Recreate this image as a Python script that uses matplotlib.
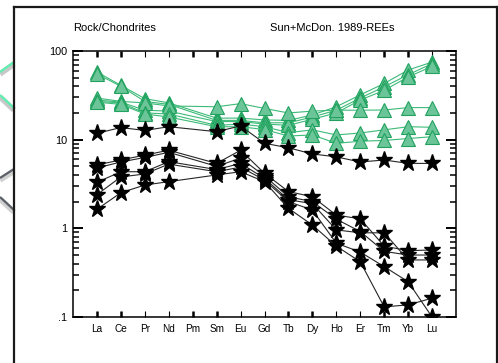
import numpy as np
import matplotlib
matplotlib.use("Agg")
import matplotlib.pyplot as plt
from matplotlib.lines import Line2D
from matplotlib.ticker import FixedLocator, FixedFormatter, LogLocator, NullFormatter

plt.rcParams["font.family"] = ["Liberation Sans", "DejaVu Sans"]

# axis categories (Pm is shown on the axis but has no analyses)
elements = ["La", "Ce", "Pr", "Nd", "Pm", "Sm", "Eu", "Gd", "Tb", "Dy", "Ho", "Er", "Tm", "Yb", "Lu"]
data_elements = ["La", "Ce", "Pr", "Nd", "Sm", "Eu", "Gd", "Tb", "Dy", "Ho", "Er", "Tm", "Yb", "Lu"]

# chondrite-normalised values, green triangle samples
tri_1 = [58, 41, 29, 26, 17.5, 17.5, 16.7, 16.5, 19, 23.5, 32, 43, 61, 75]
tri_2 = [55, 40, 27, 25, 16.5, 16.5, 15.5, 15.5, 18, 21.5, 29.5, 39.5, 54, 72]
tri_3 = [28, 26.5, 21.5, 21, 16, 16, 15, 14.5, 17, 20, 28, 36, 51, 67]
tri_4 = [29.5, 27, 26, 24, 23.5, 25.5, 22.5, 20, 21, 21.5, 21.5, 21.6, 23, 23]
tri_5 = [27, 26, 20, 19.5, 14.5, 15, 14, 12, 12.9, 11.3, 11.9, 12.9, 14, 13.8]
tri_6 = [26.5, 25, 19.5, 18, 14, 14, 13, 11, 11.3, 9.1, 9.6, 9.8, 10.3, 10.8]

# chondrite-normalised values, black star samples
star_0 = [11.8, 13.7, 12.7, 14.0, 12.3, 14.3, 9.1, 8.1, 6.9, 6.4, 5.6, 5.9, 5.4, 5.4]
star_1 = [5.2, 5.9, 6.7, 7.6, 5.4, 7.6, 4.18, 2.6, 2.27, 1.41, 1.28, 0.63, 0.56, 0.57]
star_2 = [4.8, 5.6, 6.3, 7.2, 5.0, 6.2, 3.9, 2.27, 2.0, 1.27, 0.92, 0.55, 0.50, 0.50]
star_3 = [3.3, 4.35, 4.35, 5.65, 4.6, 5.4, 3.66, 2.1, 1.9, 0.96, 0.89, 0.89, 0.44, 0.44]
star_4 = [2.4, 3.8, 4.1, 5.3, 4.35, 4.9, 3.5, 2.0, 1.61, 0.68, 0.54, 0.37, 0.25, 0.10]
star_5 = [1.64, 2.52, 3.08, 3.36, 4.0, 4.35, 3.36, 1.68, 1.09, 0.63, 0.42, 0.13, 0.137, 0.163]

triangles = [tri_1, tri_2, tri_3, tri_4, tri_5, tri_6]
stars = [star_0, star_1, star_2, star_3, star_4, star_5]

W, H = 498, 363
fig = plt.figure(figsize=(W / 100, H / 100), dpi=100)
fig.patch.set_facecolor("white")


def px(x, y):
    return x / W, 1 - y / H


# decorative slide background on the left edge
for (x0, y0), (x1, y1), col, lw in [
    ((0, 74), (14, 64), "#c8c8c8", 4), ((0, 97), (14, 110), "#c8c8c8", 4),
    ((0, 72), (14, 62), "#5df0b0", 1.6), ((0, 95), (14, 108), "#5df0b0", 1.6),
    ((0, 180), (14, 171), "#d0d0d0", 4), ((0, 199), (14, 212), "#d0d0d0", 4),
    ((0, 178), (14, 169), "#5c6068", 1.6), ((0, 197), (14, 210), "#5c6068", 1.6),
]:
    a, b = px(x0, y0), px(x1, y1)
    fig.add_artist(Line2D([a[0], b[0]], [a[1], b[1]], color=col, lw=lw,
                          solid_capstyle="butt", transform=fig.transFigure))

# frame of the pasted picture
for (x0, y0), (x1, y1) in [((14, 7), (497, 7)), ((14, 7), (14, 363)), ((496.5, 7), (496.5, 363))]:
    a, b = px(x0, y0), px(x1, y1)
    fig.add_artist(Line2D([a[0], b[0]], [a[1], b[1]], color="#1c1a18", lw=1.6,
                          transform=fig.transFigure))

ax = fig.add_axes([73 / W, 1 - 317 / H, (456 - 73) / W, (317 - 51) / H])

xpos = [elements.index(e) for e in data_elements]

for vals in triangles:
    ax.plot(xpos, vals, color="#3dba78", lw=0.8, marker="^", markersize=9.5,
            markerfacecolor="#6cc598", markeredgecolor="#20a25e", markeredgewidth=0.8,
            zorder=2)

for vals in stars:
    ax.plot(xpos, vals, color="#262626", lw=0.8, marker="*", markersize=12.5,
            markerfacecolor="black", markeredgecolor="black", zorder=3)

ax.set_yscale("log")
ax.set_ylim(0.1, 100)
ax.set_xlim(-1, len(elements))

ax.xaxis.set_major_locator(FixedLocator(range(len(elements))))
ax.xaxis.set_major_formatter(FixedFormatter(elements))
ax.yaxis.set_major_locator(FixedLocator([0.1, 1, 10, 100]))
ax.yaxis.set_major_formatter(FixedFormatter([".1", "1", "10", "100"]))
ax.yaxis.set_minor_locator(LogLocator(base=10, subs=range(2, 10)))
ax.yaxis.set_minor_formatter(NullFormatter())

ax.tick_params(axis="x", which="major", direction="in", top=True, bottom=True,
               length=4.5, width=0.8, labelsize=7.2, pad=5, color="black")
ax.tick_params(axis="y", which="major", direction="in", left=True, right=True,
               length=7, width=1.4, labelsize=7.8, pad=4)
ax.tick_params(axis="y", which="minor", direction="in", left=True, right=True,
               length=4, width=1.1)

# alternating heavy/light x ticks as in the original plot
thick = [0, 1, 4, 5, 8, 9, 12, 13]
for i, t in enumerate(ax.xaxis.get_major_ticks()):
    w = 1.8 if i in thick else 0.8
    t.tick1line.set_markeredgewidth(w)
    t.tick2line.set_markeredgewidth(w)

for s in ax.spines.values():
    s.set_linewidth(1.1)
    s.set_color("black")

fig.text(73 / W, 1 - 28 / H, "Rock/Chondrites", fontsize=8, ha="left", va="center")
fig.text(394 / W, 1 - 28 / H, "Sun+McDon. 1989-REEs", fontsize=8, ha="right", va="center")

fig.savefig("out.png", dpi=100)
plt.close(fig)
